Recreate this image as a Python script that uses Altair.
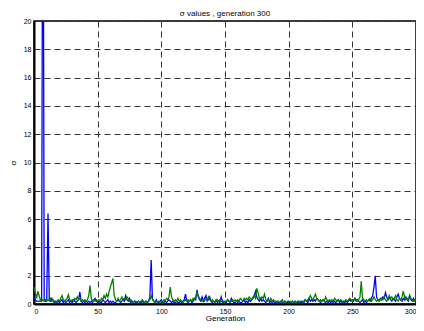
import altair as alt
import pandas as pd

blue = [
    0.5, 0.3, 0.2, 0.2, 0.2, 0.2, 0.2, 40.0, 0.3, 0.2,
    0.3, 6.4, 0.3, 0.2, 0.4, 0.2, 0.1, 0.2, 0.1, 0.2,
    0.1, 0.2, 0.3, 0.1, 0.2, 0.1, 0.2, 0.3, 0.1, 0.2,
    0.1, 0.3, 0.2, 0.1, 0.2, 0.3, 0.85, 0.2, 0.1, 0.2,
    0.1, 0.2, 0.1, 0.2, 0.1, 0.2, 0.1, 0.3, 0.4, 0.2,
    0.1, 0.2, 0.1, 0.1, 0.3, 0.2, 0.1, 0.2, 0.3, 0.1,
    0.2, 0.1, 0.2, 0.1, 0.1, 0.2, 0.3, 0.2, 0.1, 0.2,
    0.3, 0.2, 0.6, 0.3, 0.2, 0.4, 0.1, 0.2, 0.1, 0.2,
    0.1, 0.1, 0.2, 0.1, 0.1, 0.2, 0.1, 0.1, 0.2, 0.1,
    0.2, 0.5, 3.1, 0.4, 0.2, 0.1, 0.3, 0.1, 0.1, 0.2,
    0.3, 0.1, 0.1, 0.2, 0.1, 0.2, 0.3, 0.2, 0.1, 0.2,
    0.1, 0.1, 0.2, 0.1, 0.1, 0.2, 0.1, 0.2, 0.3, 0.7,
    0.2, 0.1, 0.2, 0.3, 0.1, 0.2, 0.4, 0.3, 1.0, 0.5,
    0.3, 0.2, 0.5, 0.2, 0.4, 0.6, 0.2, 0.3, 0.5, 0.2,
    0.1, 0.2, 0.1, 0.3, 0.1, 0.2, 0.1, 0.5, 0.2, 0.1,
    0.2, 0.1, 0.3, 0.2, 0.1, 0.4, 0.2, 0.1, 0.1, 0.2,
    0.1, 0.2, 0.1, 0.1, 0.2, 0.3, 0.1, 0.2, 0.1, 0.3,
    0.2, 0.3, 0.4, 0.6, 0.9, 0.5, 0.3, 0.2, 0.4, 0.2,
    0.3, 0.2, 0.1, 0.2, 0.4, 0.1, 0.2, 0.1, 0.2, 0.1,
    0.1, 0.2, 0.1, 0.1, 0.2, 0.1, 0.1, 0.2, 0.1, 0.1,
    0.2, 0.1, 0.1, 0.2, 0.1, 0.2, 0.1, 0.1, 0.2, 0.1,
    0.1, 0.2, 0.1, 0.3, 0.2, 0.1, 0.4, 0.2, 0.3, 0.2,
    0.3, 0.2, 0.4, 0.3, 0.2, 0.1, 0.2, 0.3, 0.2, 0.1,
    0.2, 0.1, 0.2, 0.1, 0.2, 0.1, 0.2, 0.1, 0.2, 0.3,
    0.1, 0.2, 0.1, 0.2, 0.1, 0.2, 0.1, 0.2, 0.3, 0.2,
    0.3, 0.2, 0.4, 0.2, 0.3, 0.2, 0.1, 0.2, 0.3, 0.1,
    0.2, 0.1, 0.2, 0.3, 0.2, 0.4, 0.6, 1.2, 2.0, 0.5,
    0.3, 0.2, 0.4, 0.3, 0.5, 0.4, 0.8, 0.5, 0.3, 0.5,
    0.3, 0.2, 0.4, 0.3, 0.2, 0.5, 0.7, 0.4, 0.3, 0.2,
    0.4, 0.3, 0.5, 0.3, 0.2, 0.6, 0.3, 0.2, 0.4, 0.2,
    0.3,
]

green = [
    1.2, 0.8, 0.4, 0.9, 0.6, 0.3, 0.2, 0.3, 0.2, 0.3,
    0.2, 0.3, 0.2, 0.4, 0.2, 0.3, 0.2, 0.1, 0.2, 0.3,
    0.2, 0.4, 0.6, 0.3, 0.2, 0.3, 0.4, 0.65, 0.3, 0.2,
    0.3, 0.2, 0.4, 0.3, 0.5, 0.3, 0.4, 0.2, 0.3, 0.2,
    0.3, 0.2, 0.3, 0.6, 1.3, 0.4, 0.2, 0.3, 0.2, 0.3,
    0.2, 0.3, 0.2, 0.4, 0.3, 0.6, 0.4, 0.7, 0.5, 0.9,
    1.2, 1.5, 1.8, 0.6, 0.3, 0.2, 0.4, 0.2, 0.3, 0.5,
    0.3, 0.4, 0.3, 0.5, 0.4, 0.2, 0.3, 0.2, 0.1, 0.2,
    0.2, 0.1, 0.2, 0.1, 0.2, 0.3, 0.2, 0.1, 0.2, 0.1,
    0.2, 0.3, 0.6, 0.3, 0.2, 0.1, 0.2, 0.1, 0.2, 0.1,
    0.2, 0.1, 0.3, 0.2, 0.4, 0.3, 0.5, 1.2, 0.5, 0.3,
    0.2, 0.3, 0.2, 0.4, 0.2, 0.3, 0.2, 0.1, 0.2, 0.3,
    0.2, 0.3, 0.2, 0.3, 0.2, 0.4, 0.3, 0.5, 0.8, 0.6,
    0.4, 0.3, 0.2, 0.3, 0.2, 0.4, 0.3, 0.5, 0.3, 0.2,
    0.3, 0.2, 0.1, 0.2, 0.3, 0.2, 0.3, 0.2, 0.1, 0.2,
    0.1, 0.2, 0.3, 0.2, 0.1, 0.2, 0.3, 0.2, 0.3, 0.2,
    0.3, 0.2, 0.4, 0.3, 0.2, 0.4, 0.3, 0.4, 0.3, 0.5,
    0.4, 0.3, 0.5, 0.6, 0.4, 1.1, 0.8, 0.4, 0.3, 0.5,
    0.4, 0.7, 0.3, 0.2, 0.3, 0.2, 0.4, 0.2, 0.3, 0.2,
    0.2, 0.1, 0.2, 0.1, 0.2, 0.3, 0.1, 0.2, 0.1, 0.2,
    0.1, 0.2, 0.1, 0.2, 0.1, 0.2, 0.1, 0.2, 0.1, 0.2,
    0.2, 0.1, 0.2, 0.3, 0.2, 0.3, 0.4, 0.6, 0.4, 0.3,
    0.5, 0.7, 0.4, 0.3, 0.2, 0.3, 0.2, 0.3, 0.2, 0.5,
    0.3, 0.2, 0.3, 0.2, 0.3, 0.2, 0.4, 0.3, 0.2, 0.3,
    0.2, 0.3, 0.2, 0.1, 0.2, 0.3, 0.2, 0.3, 0.4, 0.3,
    0.2, 0.3, 0.4, 0.3, 0.2, 0.3, 0.5, 1.6, 0.4, 0.3,
    0.2, 0.3, 0.2, 0.3, 0.4, 0.2, 0.3, 0.5, 0.3, 0.2,
    0.3, 0.2, 0.3, 0.4, 0.3, 0.5, 0.3, 0.2, 0.3, 0.6,
    0.4, 0.5, 0.3, 0.4, 0.6, 0.3, 0.2, 0.4, 0.3, 0.5,
    0.9, 0.5, 0.3, 0.4, 0.3, 0.6, 0.4, 0.3, 0.2, 0.3,
    0.2,
]

generation = list(range(len(blue)))
x_ticks = [0, 50, 100, 150, 200, 250, 300]
y_ticks = [0, 2, 4, 6, 8, 10, 12, 14, 16, 18, 20]

df = pd.DataFrame({"Generation": generation, "blue": blue, "green": green})

FONT = "Liberation Sans"

x_scale = alt.Scale(domain=[0, 300], nice=False, zero=False)
y_scale = alt.Scale(domain=[0, 20], nice=False)
x_axis = alt.Axis(values=x_ticks, title="Generation", format="d")
y_axis = alt.Axis(values=y_ticks, title="σ", format="d")

base = alt.Chart(df)

blue_line = base.mark_line(color="#0000ff", strokeWidth=1.3, clip=True).encode(
    x=alt.X("Generation:Q", scale=x_scale, axis=x_axis),
    y=alt.Y("blue:Q", scale=y_scale, axis=y_axis),
)
green_line = base.mark_line(color="#008000", strokeWidth=1.3, clip=True).encode(
    x=alt.X("Generation:Q", scale=x_scale, axis=x_axis),
    y=alt.Y("green:Q", scale=y_scale, axis=y_axis),
)

chart = alt.layer(blue_line, green_line).properties(
    width=382, height=283,
    title=alt.TitleParams("σ values , generation 300", fontSize=8, font=FONT,
                          fontWeight="normal", anchor="middle", offset=3, dy=4),
    autosize=alt.AutoSizeParams(type="none"),
    padding={"left": 26, "top": 13, "right": 0, "bottom": 19},
).configure_view(
    stroke="black", strokeWidth=1.5,
).configure_axis(
    labelFont=FONT, titleFont=FONT, labelFontSize=7, titleFontSize=8,
    titleFontWeight="normal", labelColor="black", titleColor="black",
    domainColor="black", domainWidth=2, ticks=False, labelOverlap=False,
    grid=True, gridColor="#333333", gridDash=[6, 4], gridWidth=1,
).configure_axisY(
    labelPadding=3, titlePadding=6,
).configure_axisX(
    labelPadding=3, titlePadding=0,
)

chart.save("out.html", embed_options={"renderer": "svg", "actions": False})
